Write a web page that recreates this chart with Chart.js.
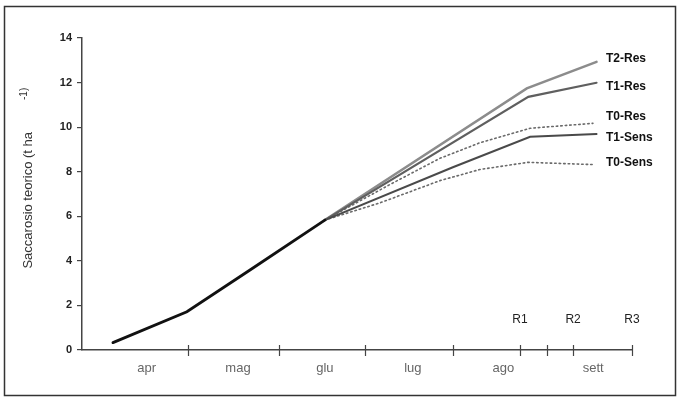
<!DOCTYPE html>
<html>
<head>
<meta charset="utf-8">
<script src="https://cdn.jsdelivr.net/npm/chart.js@4/dist/chart.umd.min.js"></script>
<style>
  html, body { margin: 0; padding: 0; background: #fff; }
  #wrap { width: 680px; height: 399px; position: relative; }
</style>
</head>
<body>
<div id="wrap"><canvas id="c" width="680" height="399"></canvas></div>
<script>
// ---- data (x = days from 1 April, y = t/ha) ----
const trunkX  = [10.3, 34.9, 55.9, 80.8];
const trunkY  = [0.33, 1.72, 3.59, 5.83];

const t2ResX  = [80.8, 148.0, 171.2];
const t2ResY  = [5.83, 11.74, 12.93];
const t1ResX  = [80.8, 148.5, 171.2];
const t1ResY  = [5.83, 11.36, 11.99];
const t0ResX  = [80.8, 102.8, 119.1, 132.4, 149.1, 170.0];
const t0ResY  = [5.83, 7.45, 8.6, 9.3, 9.95, 10.17];
const t1SensX = [80.8, 123.4, 149.1, 171.2];
const t1SensY = [5.83, 8.2, 9.57, 9.69];
const t0SensX = [80.8, 99.1, 119.1, 132.4, 148.4, 170.0];
const t0SensY = [5.83, 6.6, 7.6, 8.1, 8.42, 8.32];

const seriesNames = ['T2-Res', 'T1-Res', 'T0-Res', 'T1-Sens', 'T0-Sens'];

const xTickVals = [35.3, 65.5, 94.2, 123.4, 145.7, 154.7, 163.4, 183];
const months    = ['apr', 'mag', 'glu', 'lug', 'ago', 'sett'];
const monthPos  = [21.5, 51.9, 80.8, 110.1, 140.2, 170.1];
const rLabels   = ['R1', 'R2', 'R3'];
const rPos      = [145.7, 163.4, 183];
const yTicks    = [0, 2, 4, 6, 8, 10, 12, 14];

const yTitle = 'Saccarosio teorico (t ha';
const yTitleSup = '-1)';

function pts(xs, ys) { return xs.map((x, i) => ({ x: x, y: ys[i] })); }

const seriesLabelDy = [-3, 4, -7, 4, -2];

const overlay = {
  id: 'overlay',
  afterDraw(chart) {
    const ctx = chart.ctx;
    const xs = chart.scales.x, ys = chart.scales.y;
    const axisY = ys.getPixelForValue(0);
    ctx.save();
    // frame
    ctx.strokeStyle = '#333';
    ctx.lineWidth = 1.5;
    ctx.strokeRect(4.5, 6.5, 671, 389);
    // x tick marks crossing axis
    ctx.strokeStyle = '#444';
    ctx.lineWidth = 1.2;
    xTickVals.forEach(v => {
      const px = Math.round(xs.getPixelForValue(v)) + 0.5;
      ctx.beginPath(); ctx.moveTo(px, axisY - 5); ctx.lineTo(px, axisY + 6); ctx.stroke();
    });
    // month labels
    ctx.fillStyle = '#666';
    ctx.font = '13px "Liberation Sans", Arial, sans-serif';
    ctx.textAlign = 'center';
    ctx.textBaseline = 'middle';
    months.forEach((m, i) => ctx.fillText(m, xs.getPixelForValue(monthPos[i]), axisY + 18));
    // R labels
    ctx.fillStyle = '#222';
    ctx.font = '12px "Liberation Sans", Arial, sans-serif';
    rLabels.forEach((r, i) => ctx.fillText(r, xs.getPixelForValue(rPos[i]), axisY - 30));
    // series labels
    ctx.fillStyle = '#111';
    ctx.font = 'bold 12px "Liberation Sans", Arial, sans-serif';
    ctx.textAlign = 'left';
    seriesNames.forEach((name, i) => {
      const meta = chart.getDatasetMeta(i + 1);
      const last = meta.data[meta.data.length - 1];
      ctx.fillText(name, 606, last.y + seriesLabelDy[i]);
    });
    // y title
    ctx.translate(28, 0);
    ctx.rotate(-Math.PI / 2);
    ctx.fillStyle = '#333';
    ctx.font = '13px "Liberation Sans", Arial, sans-serif';
    ctx.textAlign = 'right';
    ctx.fillText(yTitle, -132, 0);
    ctx.font = '10px "Liberation Sans", Arial, sans-serif';
    ctx.textAlign = 'left';
    ctx.fillText(yTitleSup, -100, -4);
    ctx.restore();
  }
};

const dotted = [1.5, 3];
new Chart(document.getElementById('c'), {
  type: 'line',
  data: {
    datasets: [
      { label: 'comune', data: pts(trunkX, trunkY), borderColor: '#111', borderWidth: 2.8, order: 0 },
      { label: seriesNames[0], data: pts(t2ResX, t2ResY), borderColor: '#8c8c8c', borderWidth: 2.5, order: 3 },
      { label: seriesNames[1], data: pts(t1ResX, t1ResY), borderColor: '#5f5f5f', borderWidth: 2.2, order: 2 },
      { label: seriesNames[2], data: pts(t0ResX, t0ResY), borderColor: '#6a6a6a', borderWidth: 1.6, borderDash: dotted, order: 4 },
      { label: seriesNames[3], data: pts(t1SensX, t1SensY), borderColor: '#4a4a4a', borderWidth: 2, order: 1 },
      { label: seriesNames[4], data: pts(t0SensX, t0SensY), borderColor: '#6a6a6a', borderWidth: 1.6, borderDash: dotted, order: 5 }
    ]
  },
  options: {
    responsive: false,
    animation: false,
    events: [],
    elements: { point: { radius: 0 }, line: { tension: 0, borderCapStyle: 'round' } },
    layout: { padding: { top: 38, right: 48, bottom: 0, left: 0 } },
    plugins: { legend: { display: false }, tooltip: { enabled: false } },
    scales: {
      x: {
        type: 'linear', min: 0, max: 183,
        grid: { display: false },
        border: { display: true, color: '#444', width: 1.5 },
        ticks: { display: false },
        afterFit(s) { s.height = 49; }
      },
      y: {
        min: 0, max: 14,
        afterBuildTicks(s) { s.ticks = yTicks.map(v => ({ value: v })); },
        grid: { drawOnChartArea: false, drawTicks: true, tickLength: 5, color: '#444', lineWidth: 1.2 },
        border: { display: true, color: '#444', width: 1.5 },
        ticks: { color: '#222', font: { family: '"Liberation Sans", Arial, sans-serif', size: 11, weight: 'bold' }, padding: 5 },
        afterFit(s) { s.width = 82; }
      }
    }
  },
  plugins: [overlay]
});
</script>
</body>
</html>
